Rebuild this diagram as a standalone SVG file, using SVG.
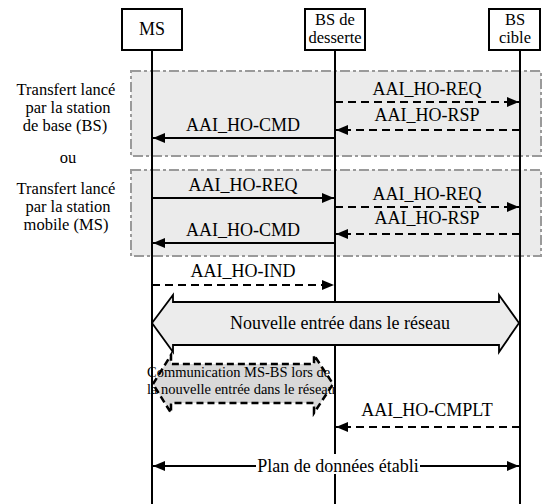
<svg xmlns="http://www.w3.org/2000/svg" width="544" height="504" viewBox="0 0 544 504" font-family="'Liberation Serif','Times New Roman',serif">
<style>
text{font-family:"Liberation Serif","Times New Roman",Times,serif;font-size:18px;fill:#000}
.c{text-anchor:middle}
.side{font-size:16.5px}
.hd{font-size:16.5px}
.frame{fill:#ebebeb;stroke:#9a9a9a;stroke-width:2;stroke-dasharray:10,3,3,3}
.head{fill:#fff;stroke:#000;stroke-width:2}
.life{stroke:#000;stroke-width:2;fill:none}
.msg{stroke:#000;stroke-width:2;fill:none}
.dash{stroke-dasharray:8,5}
.small{font-size:14.5px}
</style>
<defs>
<marker id="ah" markerUnits="userSpaceOnUse" markerWidth="14" markerHeight="12" refX="12" refY="5" orient="auto">
<path d="M0,0 L12,5 L0,10 z" fill="#000"/>
</marker>
<marker id="ahs" markerUnits="userSpaceOnUse" markerWidth="14" markerHeight="12" refX="0" refY="5" orient="auto">
<path d="M12,0 L0,5 L12,10 z" fill="#000"/>
</marker>
</defs>
<rect width="544" height="504" fill="#fff"/>

<g id="frame-bs">
<rect class="frame" x="131" y="71" width="410" height="85"/>
<text class="c side" x="66" y="95">Transfert lancé</text>
<text class="c side" x="68" y="113">par la station</text>
<text class="c side" x="65" y="131">de base (BS)</text>
</g>
<g id="ou"><text class="c side" x="68" y="163">ou</text></g>
<g id="frame-ms">
<rect class="frame" x="131" y="170" width="410" height="86"/>
<text class="c side" x="66" y="194">Transfert lancé</text>
<text class="c side" x="68" y="212">par la station</text>
<text class="c side" x="66" y="230">mobile (MS)</text>
</g>

<g id="ms">
<rect class="head" x="122" y="9" width="60" height="41"/>
<text class="c" x="152" y="35">MS</text>
<line class="life" x1="152" y1="50" x2="152" y2="504"/>
</g>
<g id="bs-desserte">
<rect class="head" x="305" y="9" width="60" height="41"/>
<text class="c hd" x="335" y="25">BS de</text>
<text class="c hd" x="335" y="43">desserte</text>
<line class="life" x1="335" y1="50" x2="335" y2="504"/>
</g>
<g id="bs-cible">
<rect class="head" x="489" y="9" width="51" height="41"/>
<text class="c hd" x="515" y="25">BS</text>
<text class="c hd" x="515" y="43">cible</text>
<line class="life" x1="520" y1="50" x2="520" y2="504"/>
</g>

<g id="connectors">
<line class="msg dash" x1="335" y1="102" x2="519" y2="102" marker-end="url(#ah)"/>
<text class="c" x="427" y="95">AAI_HO-REQ</text>
<line class="msg dash" x1="520" y1="130" x2="336" y2="130" marker-end="url(#ah)"/>
<text class="c" x="427" y="121">AAI_HO-RSP</text>
<line class="msg" x1="335" y1="138" x2="153" y2="138" marker-end="url(#ah)"/>
<text class="c" x="243" y="131">AAI_HO-CMD</text>

<line class="msg" x1="152" y1="198" x2="334" y2="198" marker-end="url(#ah)"/>
<text class="c" x="243" y="191">AAI_HO-REQ</text>
<line class="msg dash" x1="335" y1="207" x2="519" y2="207" marker-end="url(#ah)"/>
<text class="c" x="427" y="200">AAI_HO-REQ</text>
<line class="msg dash" x1="520" y1="234" x2="336" y2="234" marker-end="url(#ah)"/>
<text class="c" x="427" y="224">AAI_HO-RSP</text>
<line class="msg" x1="335" y1="243" x2="153" y2="243" marker-end="url(#ah)"/>
<text class="c" x="243" y="236">AAI_HO-CMD</text>

<line class="msg dash" x1="152" y1="285" x2="334" y2="285" marker-end="url(#ah)"/>
<text class="c" x="243" y="277">AAI_HO-IND</text>

<line class="msg dash" x1="520" y1="427" x2="336" y2="427" marker-end="url(#ah)"/>
<text class="c" x="427" y="416">AAI_HO-CMPLT</text>

<line class="msg" x1="153" y1="466" x2="519" y2="466" marker-start="url(#ahs)" marker-end="url(#ah)"/>
<rect x="256" y="454" width="164" height="20" fill="#fff"/>
<text class="c" x="338" y="472">Plan de données établi</text>
</g>

<g id="nouvelle-entree">
<polygon points="152,323 173,295 173,302 499,302 499,295 519,323 499,352 499,345 173,345 173,352" fill="#ececec" stroke="#000" stroke-width="1.8" stroke-linejoin="miter"/>
<text class="c" x="340" y="329">Nouvelle entrée dans le réseau</text>
</g>

<g id="communication">
<polygon points="153,384 171,355 171,364 314,364 314,355 333,384 314,413 314,403 171,403 171,413" fill="#d9d9d9" stroke="#000" stroke-width="2.5" stroke-dasharray="7,4"/>
<text class="small" x="147" y="377">Communication MS-BS lors de</text>
<text class="small" x="147" y="394">la nouvelle entrée dans le réseau</text>
</g>
</svg>
